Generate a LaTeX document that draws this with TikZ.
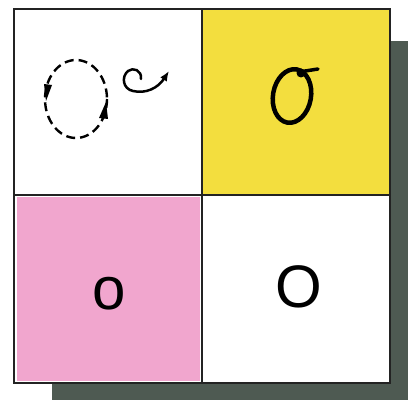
\documentclass[tikz,border=0pt]{standalone}
\usepackage{fontspec}
\setmainfont{Liberation Sans}
\usetikzlibrary{arrows.meta}
\definecolor{cellyellow}{RGB}{243,222,62}
\definecolor{cellpink}{RGB}{241,166,206}
\definecolor{shadowcol}{RGB}{78,90,82}
\definecolor{framecol}{RGB}{35,35,35}
\begin{document}
\begin{tikzpicture}[x=1pt,y=-1pt,
  frame/.style={draw=framecol,line width=2pt},
  letter/.style={font=\fontsize{60}{60}\selectfont, inner sep=0pt},
  penline/.style={line width=2.5pt, line cap=round},
  headfill/.style={fill=black}]
\useasboundingbox[fill=white] (0,0) rectangle (417,401);
% shadow
\fill[shadowcol] (389,41) rectangle (408,400);
\fill[shadowcol] (52,382) rectangle (408,400);
% cells
\fill[white] (14,9) rectangle (390,383);
\fill[cellyellow] (202,10) rectangle (389,194);
\fill[cellpink] (17,197) rectangle (200,381);
\draw[frame] (14,9) rectangle (390,383);
\draw[frame] (202,9) -- (202,383);
\draw[frame] (14,195) -- (390,195);
% top-left: dashed circulation
\draw[line width=2.4pt, dash pattern=on 9pt off 5pt] (76,99) ellipse (31 and 39);
\fill[headfill] (44,84) -- (52,85) -- (46,101) -- cycle;
\fill[headfill] (106,102) -- (108,119) -- (99,118) -- cycle;
% curly arrow
\draw[penline, -{Latex[length=10pt,width=8pt]}] (141,79) .. controls (142,70) and (133,67) .. (128,71)
  .. controls (121,77) and (123,89) .. (133,91)
  .. controls (146,94) and (158,88) .. (169,71);
% yellow: hand-drawn O with tick
\draw[line width=4.5pt, rotate around={-10:(292,96)}] (292,96) ellipse (19 and 27);
\draw[line width=3.5pt, line cap=round] (299,72) -- (318,69);
\fill (301,73) circle (4.5);
% letters
\node[letter] (smallo) at (109,294) {o};
\node[letter] (bigO) at (299,287) {O};
\end{tikzpicture}
\end{document}
